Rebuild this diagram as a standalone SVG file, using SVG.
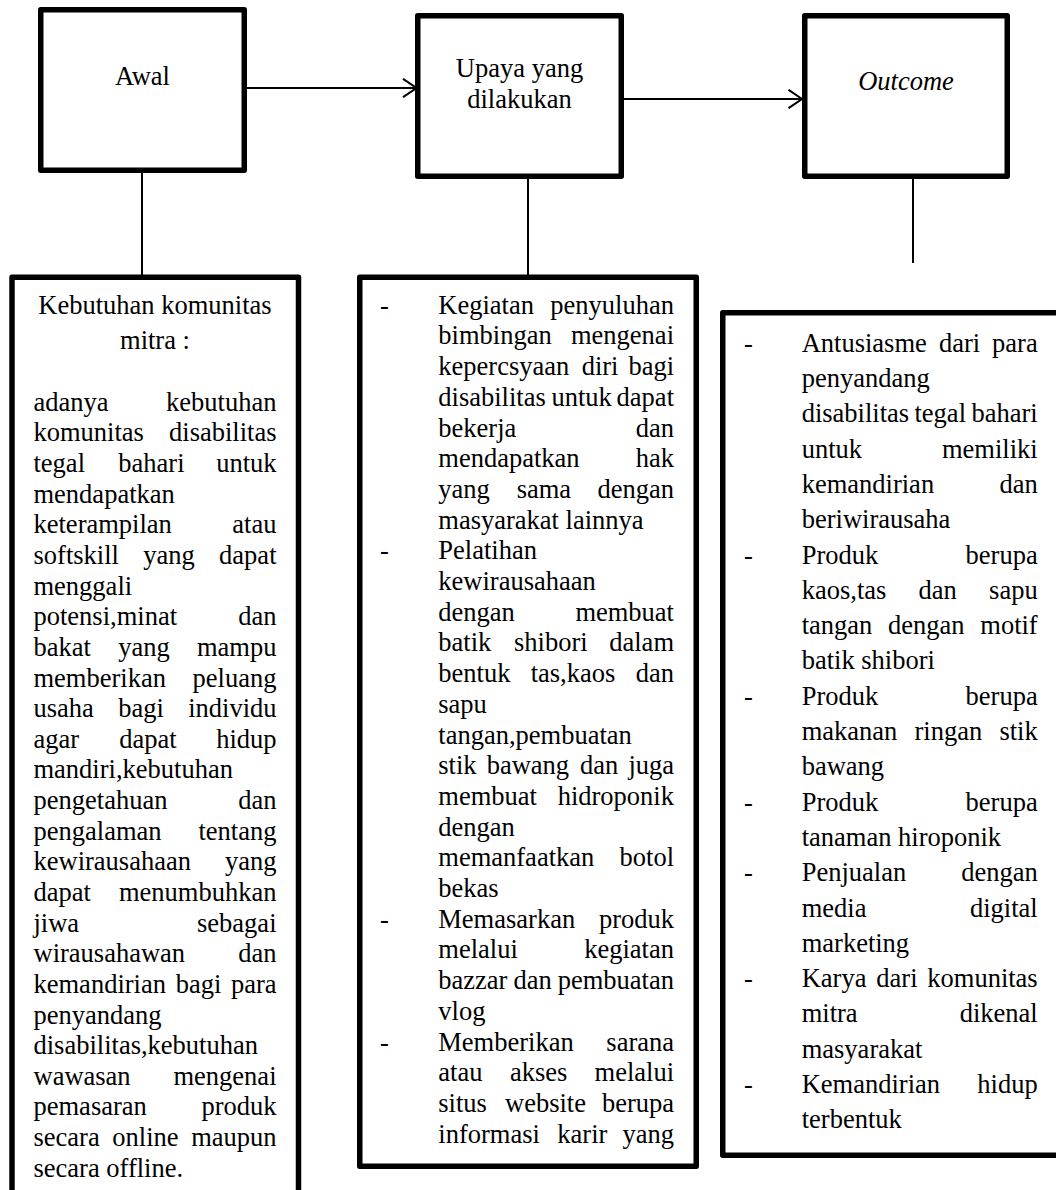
<svg xmlns="http://www.w3.org/2000/svg" width="1056" height="1190" viewBox="0 0 1056 1190">
<defs>
<style>
.box{fill:#fff;stroke:#000;stroke-width:5.5;stroke-linejoin:round}
.ln{fill:none;stroke:#000;stroke-width:2}
text{font-family:"Liberation Serif","Times New Roman",serif;font-size:26.5px;fill:#000}
.c{text-anchor:middle}
.e{text-anchor:end}
.i{font-style:italic}
</style>
<marker id="chev" viewBox="0 0 16 20" refX="14.5" refY="10" markerWidth="16" markerHeight="20" markerUnits="userSpaceOnUse" orient="auto">
<path d="M1,0.8 L14.5,10 L1,19.2" fill="none" stroke="#000" stroke-width="2"/>
</marker>
</defs>
<rect width="1056" height="1190" fill="#fff"/>

<g id="connectors">
<line class="ln" x1="247" y1="88" x2="416.5" y2="88" marker-end="url(#chev)"/>
<line class="ln" x1="624" y1="99" x2="802" y2="99" marker-end="url(#chev)"/>
<line class="ln" x1="142" y1="173" x2="142" y2="275"/>
<line class="ln" x1="528" y1="173" x2="528" y2="275"/>
<line class="ln" x1="913" y1="179" x2="913" y2="263"/>
</g>

<g id="awal">
<rect class="box" x="40.75" y="9.75" width="203.5" height="160.5"/>
<text class="c" x="142.5" y="85">Awal</text>
</g>

<g id="upaya">
<rect class="box" x="417.75" y="15.75" width="203.5" height="160.5"/>
<text class="c" x="519.5" y="77">Upaya yang</text>
<text class="c" x="519.5" y="108">dilakukan</text>
</g>

<g id="outcome">
<rect class="box" x="804.75" y="15.75" width="202.5" height="160.5"/>
<text class="c i" x="906" y="90">Outcome</text>
</g>

<g id="kebutuhan">
<rect class="box" x="12" y="277.25" width="286.5" height="1000"/>
<text class="c" x="155" y="313.5">Kebutuhan komunitas</text>
<text class="c" x="155" y="349">mitra :</text>
<text x="33.5" y="410.7">adanya</text><text class="e" x="276.5" y="410.7">kebutuhan</text>
<text x="33.5" y="441.3">komunitas</text><text class="e" x="276.5" y="441.3">disabilitas</text>
<text x="33.5" y="472">tegal</text><text x="118.3" y="472">bahari</text><text class="e" x="276.5" y="472">untuk</text>
<text x="33.5" y="502.6">mendapatkan</text>
<text x="33.5" y="533.3">keterampilan</text><text class="e" x="276.5" y="533.3">atau</text>
<text x="33.5" y="563.9">softskill</text><text x="143.3" y="563.9">yang</text><text class="e" x="276.5" y="563.9">dapat</text>
<text x="33.5" y="594.5">menggali</text>
<text x="33.5" y="625.2">potensi,minat</text><text class="e" x="276.5" y="625.2">dan</text>
<text x="33.5" y="655.8">bakat</text><text x="118.3" y="655.8">yang</text><text class="e" x="276.5" y="655.8">mampu</text>
<text x="33.5" y="686.5">memberikan</text><text class="e" x="276.5" y="686.5">peluang</text>
<text x="33.5" y="717.1">usaha</text><text x="118.3" y="717.1">bagi</text><text class="e" x="276.5" y="717.1">individu</text>
<text x="33.5" y="747.7">agar</text><text x="119.3" y="747.7">dapat</text><text class="e" x="276.5" y="747.7">hidup</text>
<text x="33.5" y="778.4">mandiri,kebutuhan</text>
<text x="33.5" y="809">pengetahuan</text><text class="e" x="276.5" y="809">dan</text>
<text x="33.5" y="839.7">pengalaman</text><text class="e" x="276.5" y="839.7">tentang</text>
<text x="33.5" y="870.3">kewirausahaan</text><text class="e" x="276.5" y="870.3">yang</text>
<text x="33.5" y="900.9">dapat</text><text class="e" x="276.5" y="900.9">menumbuhkan</text>
<text x="33.5" y="931.6">jiwa</text><text class="e" x="276.5" y="931.6">sebagai</text>
<text x="33.5" y="962.2">wirausahawan</text><text class="e" x="276.5" y="962.2">dan</text>
<text x="33.5" y="992.9">kemandirian</text><text x="175.8" y="992.9">bagi</text><text class="e" x="276.5" y="992.9">para</text>
<text x="33.5" y="1023.5">penyandang</text>
<text x="33.5" y="1054.1">disabilitas,kebutuhan</text>
<text x="33.5" y="1084.8">wawasan</text><text class="e" x="276.5" y="1084.8">mengenai</text>
<text x="33.5" y="1115.4">pemasaran</text><text class="e" x="276.5" y="1115.4">produk</text>
<text x="33.5" y="1146.1">secara</text><text x="112.3" y="1146.1">online</text><text class="e" x="276.5" y="1146.1">maupun</text>
<text x="33.5" y="1176.7">secara offline.</text>
</g>

<g id="kegiatan">
<rect class="box" x="359.75" y="277.25" width="336.5" height="889"/>
<text x="380" y="313.7">-</text><text x="438.3" y="313.7">Kegiatan</text><text class="e" x="674" y="313.7">penyuluhan</text>
<text x="438.3" y="344.4">bimbingan</text><text class="e" x="674" y="344.4">mengenai</text>
<text x="438.3" y="375.1">kepercsyaan</text><text x="581.7" y="375.1">diri</text><text class="e" x="674" y="375.1">bagi</text>
<text x="438.3" y="405.8">disabilitas</text><text x="551.5" y="405.8">untuk</text><text class="e" x="674" y="405.8">dapat</text>
<text x="438.3" y="436.5">bekerja</text><text class="e" x="674" y="436.5">dan</text>
<text x="438.3" y="467.2">mendapatkan</text><text class="e" x="674" y="467.2">hak</text>
<text x="438.3" y="497.9">yang</text><text x="516.7" y="497.9">sama</text><text class="e" x="674" y="497.9">dengan</text>
<text x="438.3" y="528.6">masyarakat lainnya</text>
<text x="380" y="559.3">-</text><text x="438.3" y="559.3">Pelatihan</text>
<text x="438.3" y="590">kewirausahaan</text>
<text x="438.3" y="620.7">dengan</text><text class="e" x="674" y="620.7">membuat</text>
<text x="438.3" y="651.4">batik</text><text x="514" y="651.4">shibori</text><text class="e" x="674" y="651.4">dalam</text>
<text x="438.3" y="682.1">bentuk</text><text x="530.7" y="682.1">tas,kaos</text><text class="e" x="674" y="682.1">dan</text>
<text x="438.3" y="712.8">sapu</text>
<text x="438.3" y="743.5">tangan,pembuatan</text>
<text x="438.3" y="774.2">stik</text><text x="486.7" y="774.2">bawang</text><text x="580" y="774.2">dan</text><text class="e" x="674" y="774.2">juga</text>
<text x="438.3" y="804.9">membuat</text><text class="e" x="674" y="804.9">hidroponik</text>
<text x="438.3" y="835.6">dengan</text>
<text x="438.3" y="866.3">memanfaatkan</text><text class="e" x="674" y="866.3">botol</text>
<text x="438.3" y="897">bekas</text>
<text x="380" y="927.7">-</text><text x="438.3" y="927.7">Memasarkan</text><text class="e" x="674" y="927.7">produk</text>
<text x="438.3" y="958.4">melalui</text><text class="e" x="674" y="958.4">kegiatan</text>
<text x="438.3" y="989.1">bazzar</text><text x="513.6" y="989.1">dan</text><text class="e" x="674" y="989.1">pembuatan</text>
<text x="438.3" y="1019.8">vlog</text>
<text x="380" y="1050.5">-</text><text x="438.3" y="1050.5">Memberikan</text><text class="e" x="674" y="1050.5">sarana</text>
<text x="438.3" y="1081.2">atau</text><text x="510" y="1081.2">akses</text><text class="e" x="674" y="1081.2">melalui</text>
<text x="438.3" y="1111.9">situs</text><text x="505" y="1111.9">website</text><text class="e" x="674" y="1111.9">berupa</text>
<text x="438.3" y="1142.6">informasi</text><text x="557.3" y="1142.6">karir</text><text class="e" x="674" y="1142.6">yang</text>
</g>

<g id="hasil">
<rect class="box" x="722.75" y="312.75" width="360" height="842.5"/>
<text x="744" y="351.7">-</text><text x="801.7" y="351.7">Antusiasme</text><text x="939" y="351.7">dari</text><text class="e" x="1037.7" y="351.7">para</text>
<text x="801.7" y="387">penyandang</text>
<text x="801.7" y="422.3">disabilitas</text><text x="914.5" y="422.3">tegal</text><text class="e" x="1037.7" y="422.3">bahari</text>
<text x="801.7" y="457.6">untuk</text><text class="e" x="1037.7" y="457.6">memiliki</text>
<text x="801.7" y="492.9">kemandirian</text><text class="e" x="1037.7" y="492.9">dan</text>
<text x="801.7" y="528.2">beriwirausaha</text>
<text x="744" y="563.5">-</text><text x="801.7" y="563.5">Produk</text><text class="e" x="1037.7" y="563.5">berupa</text>
<text x="801.7" y="598.8">kaos,tas</text><text x="918.5" y="598.8">dan</text><text class="e" x="1037.7" y="598.8">sapu</text>
<text x="801.7" y="634.1">tangan</text><text x="888" y="634.1">dengan</text><text class="e" x="1037.7" y="634.1">motif</text>
<text x="801.7" y="669.4">batik shibori</text>
<text x="744" y="704.7">-</text><text x="801.7" y="704.7">Produk</text><text class="e" x="1037.7" y="704.7">berupa</text>
<text x="801.7" y="740">makanan</text><text x="914.5" y="740">ringan</text><text class="e" x="1037.7" y="740">stik</text>
<text x="801.7" y="775.3">bawang</text>
<text x="744" y="810.6">-</text><text x="801.7" y="810.6">Produk</text><text class="e" x="1037.7" y="810.6">berupa</text>
<text x="801.7" y="845.9">tanaman hiroponik</text>
<text x="744" y="881.2">-</text><text x="801.7" y="881.2">Penjualan</text><text class="e" x="1037.7" y="881.2">dengan</text>
<text x="801.7" y="916.5">media</text><text class="e" x="1037.7" y="916.5">digital</text>
<text x="801.7" y="951.8">marketing</text>
<text x="744" y="987.1">-</text><text x="801.7" y="987.1">Karya</text><text x="876.3" y="987.1">dari</text><text class="e" x="1037.7" y="987.1">komunitas</text>
<text x="801.7" y="1022.4">mitra</text><text class="e" x="1037.7" y="1022.4">dikenal</text>
<text x="801.7" y="1057.7">masyarakat</text>
<text x="744" y="1093">-</text><text x="801.7" y="1093">Kemandirian</text><text class="e" x="1037.7" y="1093">hidup</text>
<text x="801.7" y="1128.3">terbentuk</text>
</g>
</svg>
